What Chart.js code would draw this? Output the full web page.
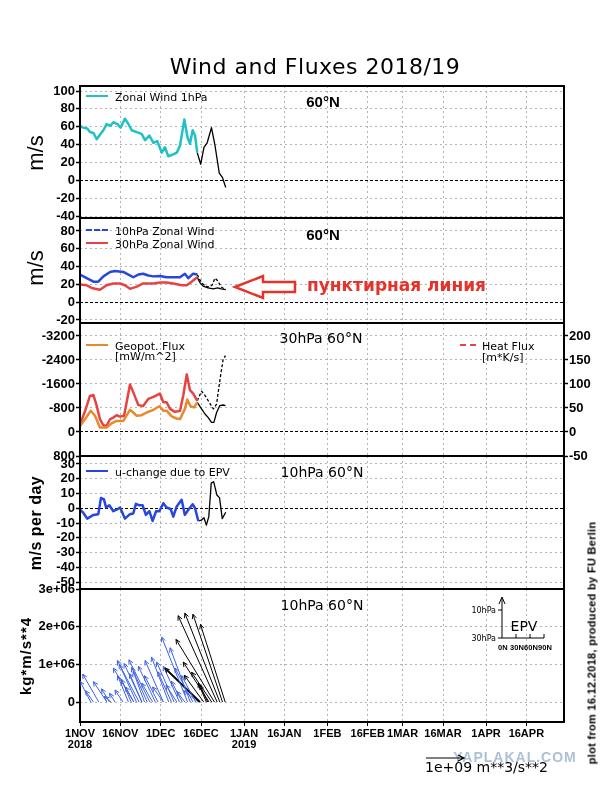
<!DOCTYPE html>
<html>
<head>
<meta charset="utf-8">
<script src="https://cdn.jsdelivr.net/npm/chart.js@4.4.1/dist/chart.umd.min.js"></script>
<style>
  body { margin: 0; background: #fff; }
  #page { position: relative; width: 611px; height: 787px; overflow: hidden; font-family: "DejaVu Sans", sans-serif; color: #000; }
  canvas { position: absolute; left: 0; }
  .t { position: absolute; white-space: nowrap; line-height: 1; }
  .c { transform: translate(-50%, -50%); }
  .r { transform: translate(-50%, -50%) rotate(-90deg); }
  .l { transform: translateY(-50%); }
  .key { position: absolute; height: 0; width: 22px; }
  .lg { font-size: 11px; }
  svg { position: absolute; left: 0; top: 0; }
</style>
</head>
<body>
<div id="page">
  <canvas id="p1"></canvas>
  <canvas id="p2"></canvas>
  <canvas id="p3"></canvas>
  <canvas id="p4"></canvas>
  <canvas id="p5"></canvas>

  <div class="t c" style="left:315px;top:67px;font-size:22px;letter-spacing:0.5px">Wind and Fluxes 2018/19</div>

  <div class="t r" style="left:36px;top:153px;font-size:22px;font-family:'Liberation Sans'">m/s</div>
  <div class="t r" style="left:36px;top:268px;font-size:22px;font-family:'Liberation Sans'">m/s</div>
  <div class="t r" style="left:36px;top:523px;font-size:16px;font-weight:bold;letter-spacing:0.5px;font-family:'Liberation Sans'">m/s per day</div>
  <div class="t r" style="left:25px;top:656px;font-size:15px;font-weight:bold;letter-spacing:1px;font-family:'Liberation Sans'">kg*m/s**4</div>

  <div class="t c" style="left:323px;top:101px;font-size:15px;font-weight:bold;font-family:'Liberation Sans'">60°N</div>
  <div class="t c" style="left:323px;top:234px;font-size:15px;font-weight:bold;font-family:'Liberation Sans'">60°N</div>
  <div class="t c" style="left:321px;top:338px;font-size:14px">30hPa 60°N</div>
  <div class="t c" style="left:322px;top:472px;font-size:14px">10hPa 60°N</div>
  <div class="t c" style="left:322px;top:605px;font-size:14px">10hPa 60°N</div>

  <div class="key" style="left:86px;top:95px;border-top:2.5px solid #1fc1c6"></div>
  <div class="t l lg" style="left:115px;top:97px">Zonal Wind 1hPa</div>
  <div class="key" style="left:86px;top:229px;border-top:2.5px dashed #2746de"></div>
  <div class="t l lg" style="left:115px;top:231px">10hPa Zonal Wind</div>
  <div class="key" style="left:86px;top:242px;border-top:2.5px solid #e84343"></div>
  <div class="t l lg" style="left:115px;top:244px">30hPa Zonal Wind</div>
  <div class="key" style="left:86px;top:344px;border-top:2.5px solid #e8892c"></div>
  <div class="t l lg" style="left:115px;top:346px">Geopot. Flux</div>
  <div class="t l lg" style="left:115px;top:356px">[mW/m^2]</div>
  <div class="key" style="left:460px;top:344px;width:16px;border-top:2px dashed #e84343"></div>
  <div class="t l lg" style="left:482px;top:346px">Heat Flux</div>
  <div class="t l lg" style="left:482px;top:357px">[m*K/s]</div>
  <div class="key" style="left:86px;top:470px;border-top:2.5px solid #2746de"></div>
  <div class="t l lg" style="left:115px;top:472px">u-change due to EPV</div>

  <div class="t l" style="left:307px;top:285px;font-size:17px;font-weight:bold;color:#e5322b">пунктирная линия</div>

  <div class="t r" style="left:592px;top:643px;font-size:11px;font-weight:bold;letter-spacing:0.3px;font-family:'Liberation Sans'">plot from 16.12.2018, produced by FU Berlin</div>
  <div class="t c" style="left:515px;top:757px;font-size:14px;font-weight:bold;letter-spacing:1px;color:rgba(120,150,185,0.6);font-family:'Liberation Sans'">YAPLAKAL.COM</div>

  <svg width="611" height="787">
    <polygon points="235,287 263,276 263,282 295,282 295,292 263,292 263,298" fill="#fff" stroke="#e5322b" stroke-width="2.5"/>
    <g stroke="#000" stroke-width="1" fill="none">
      <path d="M502,638 V598 M499,604 L502,597 L505,604"/>
      <path d="M502,638 H544 M516,638 v-4 M530,638 v-4 M544,638 v-4 M498,610 h4 M498,638 h4"/>
      <path d="M426,758 H463 M458,755 L464,758 L458,761" stroke-width="1.2"/>
    </g>
    <text x="496" y="613" font-size="8" text-anchor="end" font-family="DejaVu Sans">10hPa</text>
    <text x="496" y="641" font-size="8" text-anchor="end" font-family="DejaVu Sans">30hPa</text>
    <text x="524" y="631" font-size="14" text-anchor="middle" font-family="DejaVu Sans">EPV</text>
    <text x="498" y="650" font-size="7.5" font-weight="bold" textLength="54" font-family="Liberation Sans">0N 30N60N90N</text>
    <text x="425" y="772" font-size="14" font-family="DejaVu Sans">1e+09 m**3/s**2</text>
  </svg>
</div>

<script>
// x axis in days since 1 Nov 2018
const xTickDays = [0, 15, 30, 45, 61, 76, 92, 107, 120, 135, 151, 166]
const xTickLabels = [['1NOV', '2018'], '16NOV', '1DEC', '16DEC', ['1JAN', '2019'], '16JAN', '1FEB', '16FEB', '1MAR', '16MAR', '1APR', '16APR']

// panel 1: zonal wind 1hPa (m/s), analysis then forecast (black)
const wind1Days = [0, 1.2, 2.7, 3.7, 5, 6.2, 7.4, 8.7, 9.9, 11.2, 12.4, 13.9, 15.1, 16.7, 18, 19.2, 21.1, 22.9, 24.2, 25.8, 27.3, 28.7, 30.4, 31.6, 32.8, 34.7, 36, 37.2, 38.8, 40, 40.9, 41.9, 42.8, 43.6]
const wind1Vals = [61, 59, 58, 54, 53, 46, 51, 56, 63, 61, 65, 63, 59, 69, 63, 56, 54, 52, 45, 50, 42, 44, 31, 37, 27, 29, 31, 39, 68, 48, 41, 56, 50, 31]
const wind1FcDays = [43.6, 44.9, 46.1, 47.3, 48.9, 50.2, 51.8, 53, 54.2]
const wind1FcVals = [31, 18, 37, 42, 59, 39, 8, 3, -8]
const p1Ticks = [-40, -20, 0, 20, 40, 60, 80, 100]

// panel 2: zonal wind 10hPa and 30hPa (m/s)
const wind10Days = [0, 2.5, 5, 6.8, 8.7, 11.2, 13, 16.1, 18, 19.8, 21.7, 23.5, 25.4, 27.3, 29.7, 32.2, 34.7, 37.2, 39, 40.3, 42.1, 43.6]
const wind10Vals = [31, 27, 23, 23, 29, 34, 35, 34, 31, 28, 31, 32, 30, 29, 29.5, 28, 28, 28, 32, 27, 32, 31]
const wind30Days = [0, 2.5, 4.3, 7.4, 9.9, 12.4, 14.9, 16.7, 18.6, 21.1, 23.5, 27.3, 29.7, 32.2, 34.7, 37.8, 39.7, 41.5, 43.6]
const wind30Vals = [20, 19, 16, 14, 19, 21, 21, 19, 15, 17.5, 21, 21, 22, 22, 21, 19, 19, 23, 28]
const wind10FcDays = [43.6, 44.6, 45.8, 47.6, 49.1, 50.2, 51.2, 52.5, 54.2]
const wind10FcVals = [31, 25, 20, 17, 19, 27, 24, 17, 14]
const wind30FcDays = [43.6, 44.6, 45.8, 47.6, 49.6, 51.2, 52.5, 54.2]
const wind30FcVals = [28, 22, 18, 16, 15, 16, 15, 14]
const p2Ticks = [-20, 0, 20, 40, 60, 80]

// panel 3: geopotential flux (mW/m^2, left, reversed) and heat flux (m*K/s, right)
const geoDays = [0, 1.9, 4, 5.6, 7.4, 9.9, 11.8, 13.6, 16.1, 18.6, 19.8, 21.1, 22.9, 24.8, 27.3, 29.5, 31, 32.2, 34.1, 35.9, 37.2, 39, 39.9, 41.1, 42.4, 43.6]
const geoVals = [-200, -430, -710, -540, -150, -150, -290, -370, -370, -740, -650, -540, -560, -650, -740, -860, -710, -710, -520, -450, -430, -770, -1080, -860, -820, -990]
const geoFcDays = [43.6, 45.2, 46.5, 47.7, 48.9, 49.8, 50.8, 52, 53.2, 54.1]
const geoFcVals = [-990, -770, -600, -480, -320, -320, -650, -880, -900, -880]
const heatDays = [0, 1.9, 3.7, 5, 6.2, 7.4, 8.7, 9.9, 11.2, 12.4, 13.6, 14.9, 16.4, 18.6, 19.8, 21.7, 23.5, 25.4, 27.3, 29.7, 31, 32.2, 33.5, 35.3, 37.2, 38.4, 39.7, 40.9, 42.1, 43.6]
const heatVals = [16, 44, 75, 77, 55, 27, 14, 13, 27, 30, 35, 32, 34, 99, 83, 56, 54, 69, 73, 80, 62, 62, 48, 42, 44, 76, 120, 87, 80, 65]
const heatFcDays = [43.6, 45.2, 46.5, 47.7, 49.6, 50.8, 51.4, 52.3, 53.2, 54.1]
const heatFcVals = [65, 85, 76, 65, 48, 58, 83, 118, 150, 159]
const p3Ticks = [-3200, -2400, -1600, -800, 0, 800]
const p3RightTicks = [-50, 0, 50, 100, 150, 200]

// panel 4: u-change due to EPV (m/s per day)
const duDays = [0, 1.2, 2.7, 5, 6.8, 7.8, 8.9, 9.7, 10.9, 12.4, 13.6, 14.9, 16.7, 18.6, 19.8, 20.8, 22.1, 23.3, 24.5, 25.8, 27, 28.3, 29.5, 31, 32.2, 33.7, 34.7, 35.9, 37.8, 39, 40.3, 41.9, 42.8, 44]
const duVals = [-1, -3, -7, -4.5, -4, 7, 6, 0.5, 2, -2, -1, 0.5, -7, -4, -3.5, 3, 2, 2, -4.5, -2, -8.6, -2, -2, 3.4, 0.5, -0.5, -5.7, 1, 5.7, -4.5, -1, 2.7, 0, -8.6]
const duFcDays = [44, 45.2, 46.1, 47, 47.9, 48.8, 49.7, 50.9, 51.9, 52.9, 54.2]
const duFcVals = [-8.6, -8, -6.4, -11.4, -5.7, 17, 18, 9, 7, -7, -2.7]
const p4Ticks = [-50, -40, -30, -20, -10, 0, 10, 20, 30]

// panel 5: EP flux vectors, base day on the zero line -> tip (day, 1e6 kg*m/s**4)
const epBase = [4, 5, 7, 10, 11, 11.5, 13, 16, 18, 19, 20, 22, 21, 23, 20, 23, 26, 25, 24, 28, 27, 29, 31, 31, 33, 35, 34, 40, 37, 36, 41, 42, 38, 39, 43, 44]
const epTipDay = [0, 2, 1, 5, 8, 9, 11, 13, 14, 15.5, 12.4, 13.9, 14.6, 16.4, 17, 18.5, 18.2, 19.2, 19.8, 21.7, 23, 24, 24.2, 27, 26.6, 28.5, 29, 30.4, 31, 32, 33.5, 35.3, 34, 36, 37.8, 38.5]
const epTipVal = [0.55, 0.3, 0.74, 0.54, 0.35, 0.15, 0.23, 0.32, 0.7, 0.6, 0.9, 1.1, 1.0, 1.02, 0.4, 0.75, 1.12, 0.92, 0.81, 0.95, 0.5, 0.7, 1.1, 0.4, 1.19, 1.06, 0.8, 1.72, 0.95, 0.45, 1.44, 0.9, 0.55, 0.28, 0.7, 0.3]
const epFcBase = [44.6, 46, 47, 47.5, 48, 49, 50, 51, 52, 53, 54]
const epFcTipDay = [31.6, 38.8, 44, 44.6, 38.4, 41.5, 35.7, 36.5, 39, 42, 44.8]
const epFcTipVal = [0.9, 0.71, 0.5, 0.45, 1.06, 0.79, 1.66, 2.29, 2.36, 2.33, 2.06]
const p5Ticks = [0, 1, 2, 3]
const p5TickLabels = ['0', '1e+06', '2e+06', '3e+06']

const W = 611, LEFT = 80, RIGHT = 564, PAD = 12
const GRID = '#b3b3b3'
const CYAN = '#1fc1c6', BLUE = '#2746de', RED = '#e84343', ORANGE = '#e8892c', ARROW_BLUE = '#3d62e3'

Chart.defaults.font.family = "'Liberation Sans', sans-serif"

const frame = {
  id: 'frame',
  afterDatasetsDraw(chart) {
    const { ctx, chartArea: a } = chart
    ctx.save()
    ctx.strokeStyle = '#000'
    ctx.lineWidth = 2
    ctx.strokeRect(a.left, a.top, a.width, a.height)
    ctx.restore()
  }
}

const arrowHeads = {
  id: 'arrowHeads',
  afterDatasetsDraw(chart) {
    const ctx = chart.ctx
    const a = chart.chartArea
    ctx.save()
    ctx.beginPath()
    ctx.rect(a.left, a.top, a.width, a.height)
    ctx.clip()
    chart.data.datasets.forEach((ds, i) => {
      const [p0, p1] = chart.getDatasetMeta(i).data
      const ang = Math.atan2(p1.y - p0.y, p1.x - p0.x)
      ctx.strokeStyle = ds.borderColor
      ctx.lineWidth = 1
      ctx.beginPath()
      for (const s of [-1, 1]) {
        ctx.moveTo(p1.x, p1.y)
        ctx.lineTo(p1.x - 5 * Math.cos(ang + s * 0.45), p1.y - 5 * Math.sin(ang + s * 0.45))
      }
      ctx.stroke()
    })
    ctx.restore()
  }
}

function line(days, vals, color, width, dash, axis) {
  return {
    data: days.map((d, i) => ({ x: d, y: vals[i] })),
    borderColor: color,
    borderWidth: width,
    borderDash: dash || [],
    yAxisID: axis || 'y',
    pointRadius: 0,
    fill: false,
  }
}

function yAxis(d, position) {
  const left = position === 'left'
  return {
    type: 'linear', position, min: d.min, max: d.max, reverse: !!d.reverse,
    afterBuildTicks: s => { s.ticks = d.ticks.map(v => ({ value: v })) },
    afterFit: s => { s.width = left ? LEFT : W - RIGHT; s.paddingTop = 0; s.paddingBottom = 0 },
    grid: {
      drawOnChartArea: left,
      color: c => (d.zero && c.tick && c.tick.value === 0) ? '#000' : GRID,
      tickLength: 4, tickColor: '#000', tickWidth: 1.5,
    },
    border: { display: false, dash: c => (d.zero && c.tick && c.tick.value === 0) ? [3, 2] : [2, 3] },
    ticks: {
      autoSkip: false, color: '#000', padding: 1, font: { size: 13, weight: 'bold' },
      callback: (v) => d.labels ? d.labels[d.ticks.indexOf(v)] : String(v),
    },
  }
}

function makePanel(id, top, bottom, cfg) {
  const below = cfg.below || PAD
  const canvas = document.getElementById(id)
  canvas.width = W
  canvas.height = bottom - top + PAD + below
  canvas.style.top = (top - PAD) + 'px'
  const scales = {
    x: {
      type: 'linear', min: 0, max: 180,
      afterBuildTicks: s => { s.ticks = xTickDays.map(v => ({ value: v })) },
      afterFit: s => { s.height = below; s.paddingLeft = 0; s.paddingRight = 0 },
      grid: { color: GRID, tickLength: 4, drawTicks: !!cfg.xLabels, tickColor: '#000' },
      border: { display: false, dash: [2, 3] },
      ticks: {
        display: !!cfg.xLabels, autoSkip: false, maxRotation: 0, padding: 2, color: '#000',
        font: { size: 11, weight: 'bold', lineHeight: 1.05 },
        callback: v => xTickLabels[xTickDays.indexOf(v)],
      },
    },
    y: yAxis(cfg.y, 'left'),
  }
  if (cfg.y2) scales.y2 = yAxis(cfg.y2, 'right')
  return new Chart(canvas, {
    type: 'line',
    data: { datasets: cfg.datasets },
    options: {
      responsive: false, animation: false, devicePixelRatio: 1,
      layout: { padding: { top: PAD, left: 0, bottom: 0, right: cfg.y2 ? 0 : W - RIGHT } },
      elements: { line: { tension: 0, borderJoinStyle: 'round' } },
      plugins: { legend: { display: false }, tooltip: { enabled: false } },
      scales,
    },
    plugins: [frame, ...(cfg.plugins || [])],
  })
}

makePanel('p1', 86, 218, {
  y: { min: -42.2, max: 105.6, ticks: p1Ticks, zero: true },
  datasets: [
    line(wind1Days, wind1Vals, CYAN, 2.5),
    line(wind1FcDays, wind1FcVals, '#000', 1.3),
  ],
})

makePanel('p2', 218, 323, {
  y: { min: -23.4, max: 94.6, ticks: p2Ticks, zero: true },
  datasets: [
    line(wind10Days, wind10Vals, BLUE, 2.5),
    line(wind30Days, wind30Vals, RED, 2.5),
    line(wind30FcDays, wind30FcVals, '#000', 1.3),
    line(wind10FcDays, wind10FcVals, '#000', 1.3, [3, 2]),
  ],
})

makePanel('p3', 323, 456, {
  y: { min: -3633, max: 800, reverse: true, ticks: p3Ticks, zero: true },
  y2: { min: -50, max: 227, ticks: p3RightTicks },
  datasets: [
    line(geoDays, geoVals, ORANGE, 2.5),
    line(heatDays, heatVals, RED, 2.5, null, 'y2'),
    line(geoFcDays, geoFcVals, '#000', 1.3),
    line(heatFcDays, heatFcVals, '#000', 1.3, [3, 2], 'y2'),
  ],
})

makePanel('p4', 456, 589, {
  y: { min: -54.7, max: 35.4, ticks: p4Ticks, zero: true },
  datasets: [
    line(duDays, duVals, BLUE, 2.5),
    line(duFcDays, duFcVals, '#000', 1.3),
  ],
})

const arrows = [
  ...epBase.map((b, i) => line([b, epTipDay[i]], [0, epTipVal[i]], ARROW_BLUE, 1)),
  ...epFcBase.map((b, i) => line([b, epFcTipDay[i]], [0, epFcTipVal[i]], '#000', i === 0 ? 2 : 1)),
]

makePanel('p5', 589, 722, {
  below: 45,
  xLabels: true,
  y: { min: -0.53, max: 3, ticks: p5Ticks, labels: p5TickLabels },
  datasets: arrows,
  plugins: [arrowHeads],
})
</script>
</body>
</html>
